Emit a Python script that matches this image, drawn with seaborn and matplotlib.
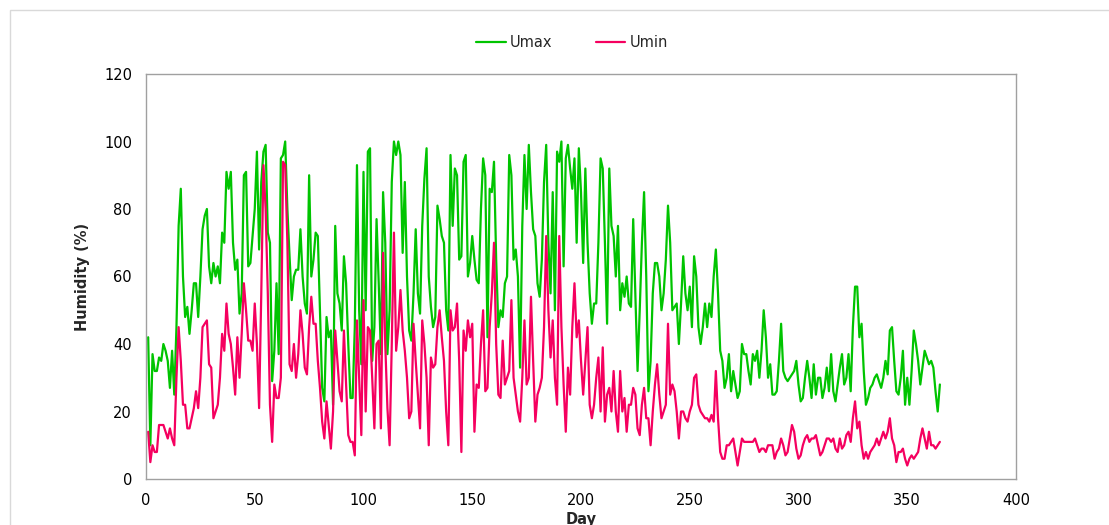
import matplotlib.pyplot as plt
import numpy as np
import pandas as pd
import seaborn as sns
from matplotlib.patches import Rectangle

# daily humidity values (%), days 1..365
dias = list(range(1, 366))

umax = [
    42, 10, 37, 32, 32, 36, 35, 40, 38, 35,
    27, 38, 25, 45, 75, 86, 60, 48, 51, 43,
    50, 58, 58, 48, 60, 74, 78, 80, 63, 58,
    64, 60, 63, 58, 73, 70, 91, 86, 91, 70,
    62, 65, 49, 55, 90, 91, 63, 64, 72, 80,
    97, 68, 88, 97, 99, 73, 70, 29, 38, 58,
    37, 95, 96, 100, 80, 66, 53, 60, 62, 62,
    74, 60, 52, 49, 90, 60, 65, 73, 72, 50,
    27, 23, 48, 42, 44, 22, 75, 55, 52, 44,
    66, 58, 40, 24, 24, 45, 93, 50, 34, 91,
    50, 97, 98, 35, 45, 77, 58, 37, 85, 70,
    37, 50, 88, 100, 96, 100, 96, 67, 88, 60,
    44, 41, 55, 74, 55, 49, 75, 89, 98, 60,
    51, 45, 48, 81, 77, 72, 70, 50, 44, 96,
    75, 92, 90, 65, 66, 94, 96, 60, 64, 72,
    65, 59, 58, 80, 95, 90, 42, 86, 85, 94,
    65, 45, 50, 48, 58, 60, 96, 90, 65, 68,
    60, 33, 75, 96, 80, 99, 85, 74, 72, 58,
    54, 65, 88, 99, 70, 55, 85, 50, 97, 94,
    100, 63, 95, 99, 92, 86, 95, 70, 98, 85,
    64, 92, 70, 55, 46, 52, 52, 70, 95, 92,
    70, 46, 92, 75, 72, 60, 75, 50, 58, 54,
    60, 52, 51, 77, 55, 32, 50, 70, 85, 60,
    26, 35, 55, 64, 64, 60, 50, 55, 65, 81,
    70, 50, 51, 52, 40, 52, 66, 55, 50, 57,
    45, 66, 60, 45, 40, 45, 52, 45, 52, 48,
    60, 68, 55, 38, 35, 27, 30, 37, 26, 32,
    28, 24, 26, 40, 37, 37, 32, 28, 37, 35,
    38, 30, 38, 50, 42, 30, 34, 25, 25, 26,
    35, 46, 32, 30, 29, 30, 31, 32, 35, 28,
    23, 24, 30, 35, 30, 24, 34, 25, 30, 30,
    24, 27, 33, 26, 37, 26, 23, 28, 33, 37,
    28, 30, 37, 26, 45, 57, 57, 42, 46, 32,
    22, 24, 27, 28, 30, 31, 29, 27, 30, 35,
    31, 44, 45, 35, 26, 25, 30, 38, 22, 30,
    22, 32, 44, 40, 35, 28, 33, 38, 36, 34,
    35, 33, 26, 20, 28,
]

umin = [
    14, 5, 10, 8, 8, 16, 16, 16, 14, 12,
    15, 12, 10, 30, 45, 35, 22, 22, 15, 15,
    18, 21, 26, 21, 30, 45, 46, 47, 34, 33,
    18, 20, 22, 30, 43, 38, 52, 43, 40, 33,
    25, 42, 30, 43, 58, 50, 41, 41, 38, 52,
    40, 21, 55, 93, 80, 55, 22, 11, 28, 24,
    24, 30, 94, 93, 70, 34, 32, 40, 30, 37,
    50, 43, 33, 31, 45, 54, 46, 46, 35, 27,
    17, 12, 23, 16, 9, 20, 44, 35, 26, 23,
    44, 28, 13, 11, 11, 7, 47, 30, 13, 53,
    20, 45, 44, 30, 15, 40, 41, 15, 67, 40,
    21, 10, 40, 73, 38, 45, 56, 44, 38, 30,
    18, 20, 46, 35, 25, 15, 47, 40, 30, 10,
    36, 33, 34, 45, 50, 42, 35, 20, 10, 50,
    44, 45, 52, 35, 8, 44, 38, 47, 42, 46,
    14, 28, 27, 40, 50, 26, 27, 45, 55, 70,
    40, 25, 24, 41, 28, 30, 32, 53, 30, 25,
    20, 17, 30, 47, 28, 30, 54, 35, 17, 25,
    27, 30, 45, 72, 50, 36, 47, 30, 22, 72,
    45, 28, 14, 33, 25, 45, 58, 42, 47, 35,
    25, 35, 45, 22, 18, 22, 30, 36, 20, 39,
    17, 25, 27, 20, 32, 20, 14, 32, 20, 24,
    14, 22, 22, 27, 25, 15, 13, 22, 27, 18,
    18, 10, 20, 28, 34, 25, 18, 20, 22, 46,
    25, 28, 26, 20, 12, 20, 20, 18, 17, 20,
    22, 30, 31, 22, 20, 19, 18, 18, 17, 19,
    17, 32, 18, 8, 6, 6, 10, 10, 11, 12,
    8, 4, 8, 12, 11, 11, 11, 11, 11, 12,
    10, 8, 9, 9, 8, 10, 10, 10, 6, 8,
    9, 12, 10, 7, 8, 12, 16, 14, 9, 6,
    7, 10, 12, 13, 11, 12, 12, 13, 10, 7,
    8, 10, 12, 12, 11, 12, 9, 8, 12, 9,
    10, 13, 14, 11, 18, 23, 15, 17, 10, 6,
    8, 6, 8, 9, 10, 12, 10, 12, 14, 12,
    14, 18, 12, 10, 5, 8, 8, 9, 6, 4,
    6, 7, 6, 7, 8, 12, 15, 12, 9, 14,
    10, 10, 9, 10, 11,
]

series = ["Umax", "Umin"]
colores = {"Umax": "#00c400", "Umin": "#f5005f"}

df = pd.DataFrame({"Day": dias, "Umax": umax, "Umin": umin})
df_largo = df.melt(id_vars="Day", value_vars=series, var_name="serie", value_name="Humedad")

sns.set_style("white")
plt.rcParams["font.family"] = ["Liberation Sans Narrow", "DejaVu Sans"]

fig = plt.figure(figsize=(11.09, 5.25), dpi=100)
ax = fig.add_axes([146 / 1109, 46 / 525, 870 / 1109, 405 / 525])

sns.lineplot(data=df_largo, x="Day", y="Humedad", hue="serie", hue_order=series,
             palette=colores, linewidth=1.6, ax=ax)

ax.set_xlim(0, 400)
ax.set_ylim(0, 120)
ax.set_xticks(np.arange(0, 401, 50))
ax.set_yticks(np.arange(0, 121, 20))
ax.tick_params(axis="both", direction="out", length=4, width=1, color="#a0a0a0",
               labelsize=10.5, labelcolor="#000000", pad=6)

for lado in ["left", "bottom", "top", "right"]:
    ax.spines[lado].set_color("#a0a0a0")
    ax.spines[lado].set_linewidth(1)

ax.set_xlabel("Day", fontsize=10.5, fontweight="bold", labelpad=3)
ax.set_ylabel("Humidity (%)", fontsize=10.5, fontweight="bold", labelpad=10)

ax.legend(loc="center", bbox_to_anchor=(0.49, 1.077), ncol=2, frameon=False,
          fontsize=10.5, handlelength=2.0, handletextpad=0.3, columnspacing=3.0)

# borde exterior del area del grafico
fig.patches.append(Rectangle((10 / 1109, -0.1), 1.2, 1.1 - 10 / 525 + 0.0,
                             transform=fig.transFigure, fill=False,
                             edgecolor="#d9d9d9", linewidth=1))

fig.savefig("out.png", dpi=100)
